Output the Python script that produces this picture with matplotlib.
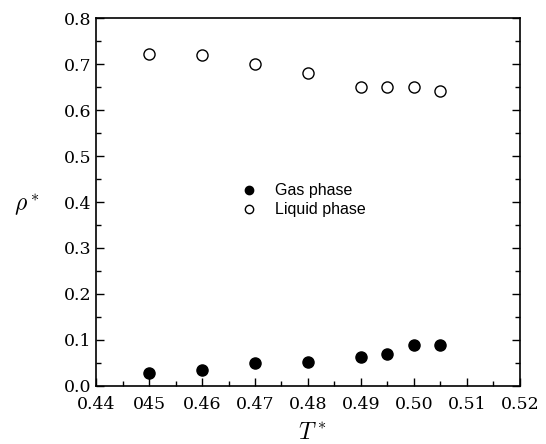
import matplotlib
matplotlib.use("Agg")
import matplotlib.pyplot as plt
from matplotlib.ticker import MultipleLocator, FixedLocator, FixedFormatter

plt.rcParams['mathtext.fontset'] = 'cm'

T = [0.45, 0.46, 0.47, 0.48, 0.49, 0.495, 0.50, 0.505]
rho_gas = [0.029, 0.034, 0.049, 0.052, 0.063, 0.069, 0.089, 0.089]
rho_liquid = [0.722, 0.720, 0.700, 0.681, 0.651, 0.650, 0.650, 0.641]

xticks = [0.44, 0.45, 0.46, 0.47, 0.48, 0.49, 0.50, 0.51, 0.52]
xtick_labels = ['0.44', '045', '0.46', '0.47', '0.48', '0.49', '0.50', '0.51', '0.52']
yticks = [0.0, 0.1, 0.2, 0.3, 0.4, 0.5, 0.6, 0.7, 0.8]

fig = plt.figure(figsize=(5.46, 4.44), dpi=100)
ax = fig.add_axes([0.176, 0.131, 0.776, 0.828])

ax.plot(T, rho_gas, 'o', color='black', markersize=8, label='Gas phase')
ax.plot(T, rho_liquid, 'o', markerfacecolor='white', markeredgecolor='black',
        markeredgewidth=1.0, markersize=8, label='Liquid phase')

ax.set_xlim(0.44, 0.52)
ax.set_ylim(0.0, 0.8)
ax.xaxis.set_major_locator(FixedLocator(xticks))
ax.xaxis.set_major_formatter(FixedFormatter(xtick_labels))
ax.xaxis.set_minor_locator(MultipleLocator(0.005))
ax.yaxis.set_major_locator(FixedLocator(yticks))
ax.yaxis.set_minor_locator(MultipleLocator(0.05))
ax.yaxis.set_major_formatter(FixedFormatter(['%.1f' % v for v in yticks]))

ax.tick_params(which='both', direction='in', top=False, right=True, width=1.0)
ax.tick_params(which='major', length=6)
ax.tick_params(which='minor', length=3.5)
ax.tick_params(axis='x', which='major', pad=7)
for lab in ax.get_xticklabels() + ax.get_yticklabels():
    lab.set_family('DejaVu Serif')
    lab.set_fontsize(12.5)
for sp in ax.spines.values():
    sp.set_linewidth(1.2)

ax.set_xlabel(r'$T^*$', fontsize=17, va='center')
ax.xaxis.set_label_coords(0.51, -0.125)
ax.set_ylabel(r'$\rho^*$', fontsize=17, rotation=0, va='center', ha='center')
ax.yaxis.set_label_coords(-0.163, 0.49)

leg = ax.legend(loc='center', bbox_to_anchor=(0.48, 0.505), frameon=False,
                prop={'family': 'Liberation Sans', 'size': 11.5},
                markerscale=0.75, handletextpad=0.6, labelspacing=0.25)

fig.savefig('out.png', dpi=100)
